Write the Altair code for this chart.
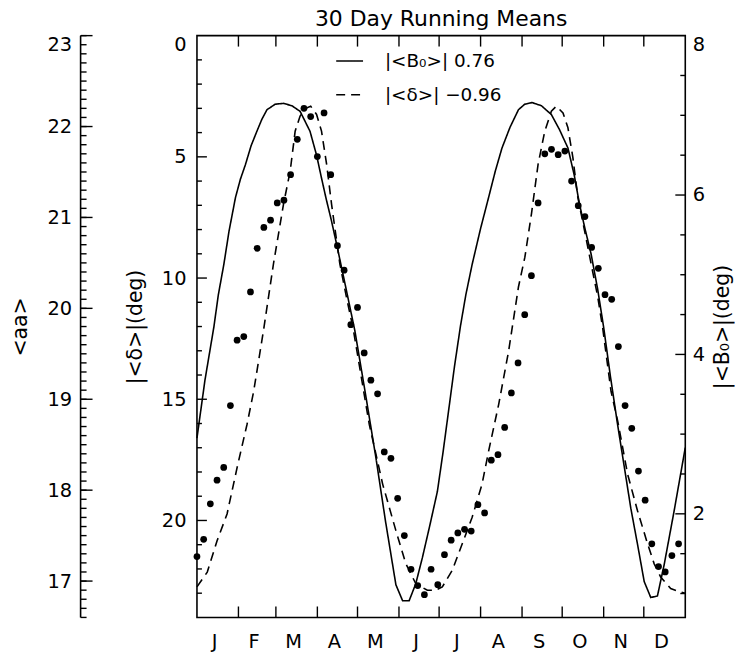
import altair as alt
import pandas as pd

TITLE = "30 Day Running Means"
MONTHS = ["J", "F", "M", "A", "M", "J", "J", "A", "S", "O", "N", "D"]
MONTH_MID = [15.5, 45, 74.5, 105, 135.5, 166, 196.5, 227.5, 258, 288.5, 319, 349.5]
MONTH_EDGES = [31, 59, 90, 120, 151, 181, 212, 243, 273, 304, 334]

# <aa> 30-day running means, every 5 days
AA_DAYS = list(range(0, 365, 5))
AA = [17.27, 17.46, 17.85, 18.11, 18.25, 18.93, 19.65, 19.69, 20.18, 20.66,
      20.89, 20.97, 21.16, 21.19, 21.47, 21.86, 22.20, 22.11, 21.67, 22.15,
      21.47, 20.69, 20.42, 19.82, 20.01, 19.51, 19.21, 19.06, 18.42, 18.35,
      17.91, 17.50, 17.13, 16.95, 16.85, 17.13, 16.96, 17.29, 17.45, 17.53,
      17.57, 17.55, 17.84, 17.75, 18.33, 18.39, 18.69, 19.07, 19.40, 19.93,
      20.36, 21.16, 21.70, 21.75, 21.69, 21.73, 21.40, 21.13, 21.01, 20.67,
      20.44, 20.15, 20.10, 19.58, 18.93, 18.68, 18.21, 17.89, 17.41, 17.16,
      17.10, 17.28, 17.41]

# |<B0>| (solid line, right axis)
B0_DAYS = [0, 6, 12.6, 16, 20.1, 24, 28.8, 32.5, 36.2, 40.5, 44.8, 48.5,
           52.3, 58.5, 64.7, 71, 77.1, 84.5, 89.4, 93, 96.6, 100.5, 104.3, 111,
           118, 126, 133.8, 141, 148.7, 153.7, 158.6, 163.5, 168.5, 174, 179.7,
           184, 188.3, 192.5, 197, 201, 205.7, 212, 218, 223, 228, 234, 240.3,
           245, 250.5, 257.5, 264.9, 271, 277.3, 282, 286, 290, 294.6, 299.5,
           304, 309, 314.5, 319.5, 324.3, 329.5, 334.3, 339.2, 344.2, 349.2,
           356.6, 365]
B0 = [2.95, 3.68, 4.34, 4.75, 5.13, 5.55, 5.97, 6.20, 6.38, 6.62, 6.80, 6.95,
      7.07, 7.14, 7.15, 7.12, 7.05, 6.80, 6.50, 6.22, 5.95, 5.68, 5.39, 4.86,
      4.30, 3.50, 2.70, 1.90, 1.11, 0.91, 0.91, 1.12, 1.45, 1.85, 2.28,
      2.78, 3.32, 3.85, 4.36, 4.75, 5.13, 5.58, 5.97, 6.30, 6.59, 6.85, 7.07,
      7.14, 7.16, 7.12, 7.01, 6.82, 6.59, 6.25, 5.88, 5.58, 5.26, 4.82,
      4.34, 3.73, 3.11, 2.58, 2.07, 1.60, 1.15, 0.95, 0.97, 1.36,
      2.03, 2.83]

# |<delta>| (dashed line, inner left axis, reversed)
D_DAYS = [0, 7.7, 15.1, 22.5, 30.0, 37.4, 42.4, 49.8, 57.2, 64.7,
          69.7, 73.4, 77.1, 80.8, 85.0, 89.4, 93.1, 96.9, 100.6, 106.8,
          111.7, 116.7, 128.8, 138.8, 148.7, 156.1, 163.5, 172.2, 178.4, 183.4,
          190.8, 198.3, 205.7, 213.1, 218.0, 225.5, 232.9, 240.3, 245.1, 250.0,
          255.0, 260.0, 264.9, 268.6, 273.6, 277.3, 281.0, 284.7, 289.7, 294.6,
          299.6, 303.3, 309.5, 314.5, 321.9, 329.3, 336.8, 341.7, 346.6, 354.1,
          361.5, 365]
DELTA = [22.74, 22.13, 20.83, 19.73, 17.82, 16.04, 14.67, 12.14, 9.41, 6.95,
         5.58, 3.94, 3.32, 3.01, 2.91, 3.25, 3.94, 5.30, 6.95, 9.41,
         10.78, 12.07, 16.04, 18.50, 20.42, 21.78, 22.60, 22.88, 22.88, 22.74,
         22.06, 20.96, 19.87, 18.50, 17.14, 15.22, 13.03, 10.37, 9.14, 7.36,
         5.30, 3.94, 3.12, 2.91, 3.19, 3.80, 5.03, 6.67, 8.04, 9.41,
         10.78, 12.07, 14.67, 15.90, 18.09, 19.60, 20.96, 21.78, 22.33, 22.81,
         22.95, 23.00]

LAB_B0 = "|<B\u2080>|  0.76"
LAB_D = "|<\u03b4>| \u22120.96"

# axis ticks / labels
D_LABELS = [0, 5, 10, 15, 20]
D_MAJOR = [5, 10, 15, 20]
D_MINOR = [1, 2, 3, 4, 6, 7, 8, 9, 11, 12, 13, 14, 16, 17, 18, 19, 21, 22, 23]
B_LABELS = [2, 4, 6, 8]
B_MAJOR = [2, 4, 6]
B_MINOR = [1, 1.5, 2.5, 3, 3.5, 4.5, 5, 5.5, 6.5, 7, 7.5]
A_LABELS = [17, 18, 19, 20, 21, 22, 23]
A_MINOR = [round(16.6 + 0.1 * i, 1) for i in range(65)]

W, H = 491, 585
FONT = "DejaVu Sans"

x_scale = alt.Scale(domain=[0, 365], nice=False, zero=False)
d_scale = alt.Scale(domain=[0, 24], reverse=True, nice=False, zero=False)
b_scale = alt.Scale(domain=[0.7, 8], nice=False, zero=False)
a_scale = alt.Scale(domain=[16.6, 23], nice=False, zero=False)
dash_scale = alt.Scale(domain=[LAB_B0, LAB_D], range=[[1, 0], [9, 6]])

legend = alt.Legend(
    title=None, orient="none", legendX=139, legendY=11, padding=0,
    symbolType="stroke", symbolSize=729, symbolStrokeColor="black",
    symbolStrokeWidth=1.6, labelFont=FONT, labelFontSize=18.5, labelColor="black",
    labelOffset=21, rowPadding=10,
)

aa_df = pd.DataFrame({"day": AA_DAYS, "aa": AA})
b0_df = pd.DataFrame({"day": B0_DAYS, "b0": B0, "series": LAB_B0})
d_df = pd.DataFrame({"day": D_DAYS, "delta": DELTA, "series": LAB_D})
month_df = pd.DataFrame({"mid": MONTH_MID, "m": MONTHS})

X = lambda f: alt.X(f"{f}:Q", scale=x_scale, axis=None)

axis_common = dict(domain=False, ticks=False, grid=False, labelFont=FONT,
                   labelFontSize=19.5, labelColor="black", labelFlush=True,
                   titleFont=FONT, titleFontSize=20.5, titleFontWeight="normal",
                   titleColor="black")

solid = alt.Chart(b0_df).mark_line(color="black", strokeWidth=1.6).encode(
    x=X("day"),
    y=alt.Y("b0:Q", scale=b_scale,
            axis=alt.Axis(orient="right", values=B_LABELS, labelPadding=7,
                          title="|<B\u2080>|(deg)", titlePadding=8, titleAngle=270,
                          titleBaseline="top", **axis_common)),
    strokeDash=alt.StrokeDash("series:N", scale=dash_scale, legend=legend),
)

dashed = alt.Chart(d_df).mark_line(color="black", strokeWidth=1.6).encode(
    x=X("day"),
    y=alt.Y("delta:Q", scale=d_scale,
            axis=alt.Axis(orient="left", values=D_LABELS, labelPadding=11,
                          title="|<\u03b4>|(deg)", titlePadding=16, **axis_common)),
    strokeDash=alt.StrokeDash("series:N", scale=dash_scale, legend=legend),
)

dots = alt.Chart(aa_df).mark_circle(size=46, color="black", opacity=1).encode(
    x=X("day"),
    y=alt.Y("aa:Q", scale=a_scale,
            axis=alt.Axis(orient="left", offset=117, values=A_LABELS, labelPadding=9,
                          title="<aa>", titlePadding=17, **axis_common)),
)


def yticks(values, scale, x0, x1):
    return alt.Chart(pd.DataFrame({"v": values})).mark_rule(
        color="black", strokeWidth=1.4).encode(
        y=alt.Y("v:Q", scale=scale, axis=None), x=alt.value(x0), x2=alt.value(x1))


def xticks(values, y0, y1):
    return alt.Chart(pd.DataFrame({"v": values})).mark_rule(
        color="black", strokeWidth=1.4).encode(
        x=alt.X("v:Q", scale=x_scale, axis=None), y=alt.value(y0), y2=alt.value(y1))


AX = -117
aa_line = alt.Chart(pd.DataFrame({"v": [0]})).mark_rule(
    color="black", strokeWidth=1.6).encode(
    x=alt.value(AX), y=alt.value(0), y2=alt.value(H))

layers = [
    solid, dashed,
    yticks(D_MAJOR, d_scale, 0, 10), yticks(D_MINOR, d_scale, 0, 5),
    yticks(B_MAJOR, b_scale, W, W - 10), yticks(B_MINOR, b_scale, W, W - 5),
    yticks(A_LABELS, a_scale, AX, AX + 12), yticks(A_MINOR, a_scale, AX, AX + 6),
    aa_line,
    xticks(MONTH_EDGES, H, H - 11), xticks(MONTH_EDGES, 0, 11),
    alt.Chart(month_df).mark_text(font=FONT, fontSize=19.5, color="black",
                                  baseline="middle", dx=-3).encode(
        x=X("mid"), y=alt.value(H + 25), text="m:N"),
    dots,
]

chart = alt.layer(*layers).resolve_scale(y="independent").properties(
    width=W, height=H,
    title=alt.TitleParams(TITLE, font=FONT, fontSize=22, fontWeight="normal",
                          color="black", anchor="middle", frame="group", offset=4),
    padding={"left": 190, "top": 26, "right": 50, "bottom": 38},
    autosize=alt.AutoSizeParams(type="none"),
).configure_view(stroke="black", strokeWidth=1.6)

chart.save("out.html", embed_options={"renderer": "svg", "actions": False})
